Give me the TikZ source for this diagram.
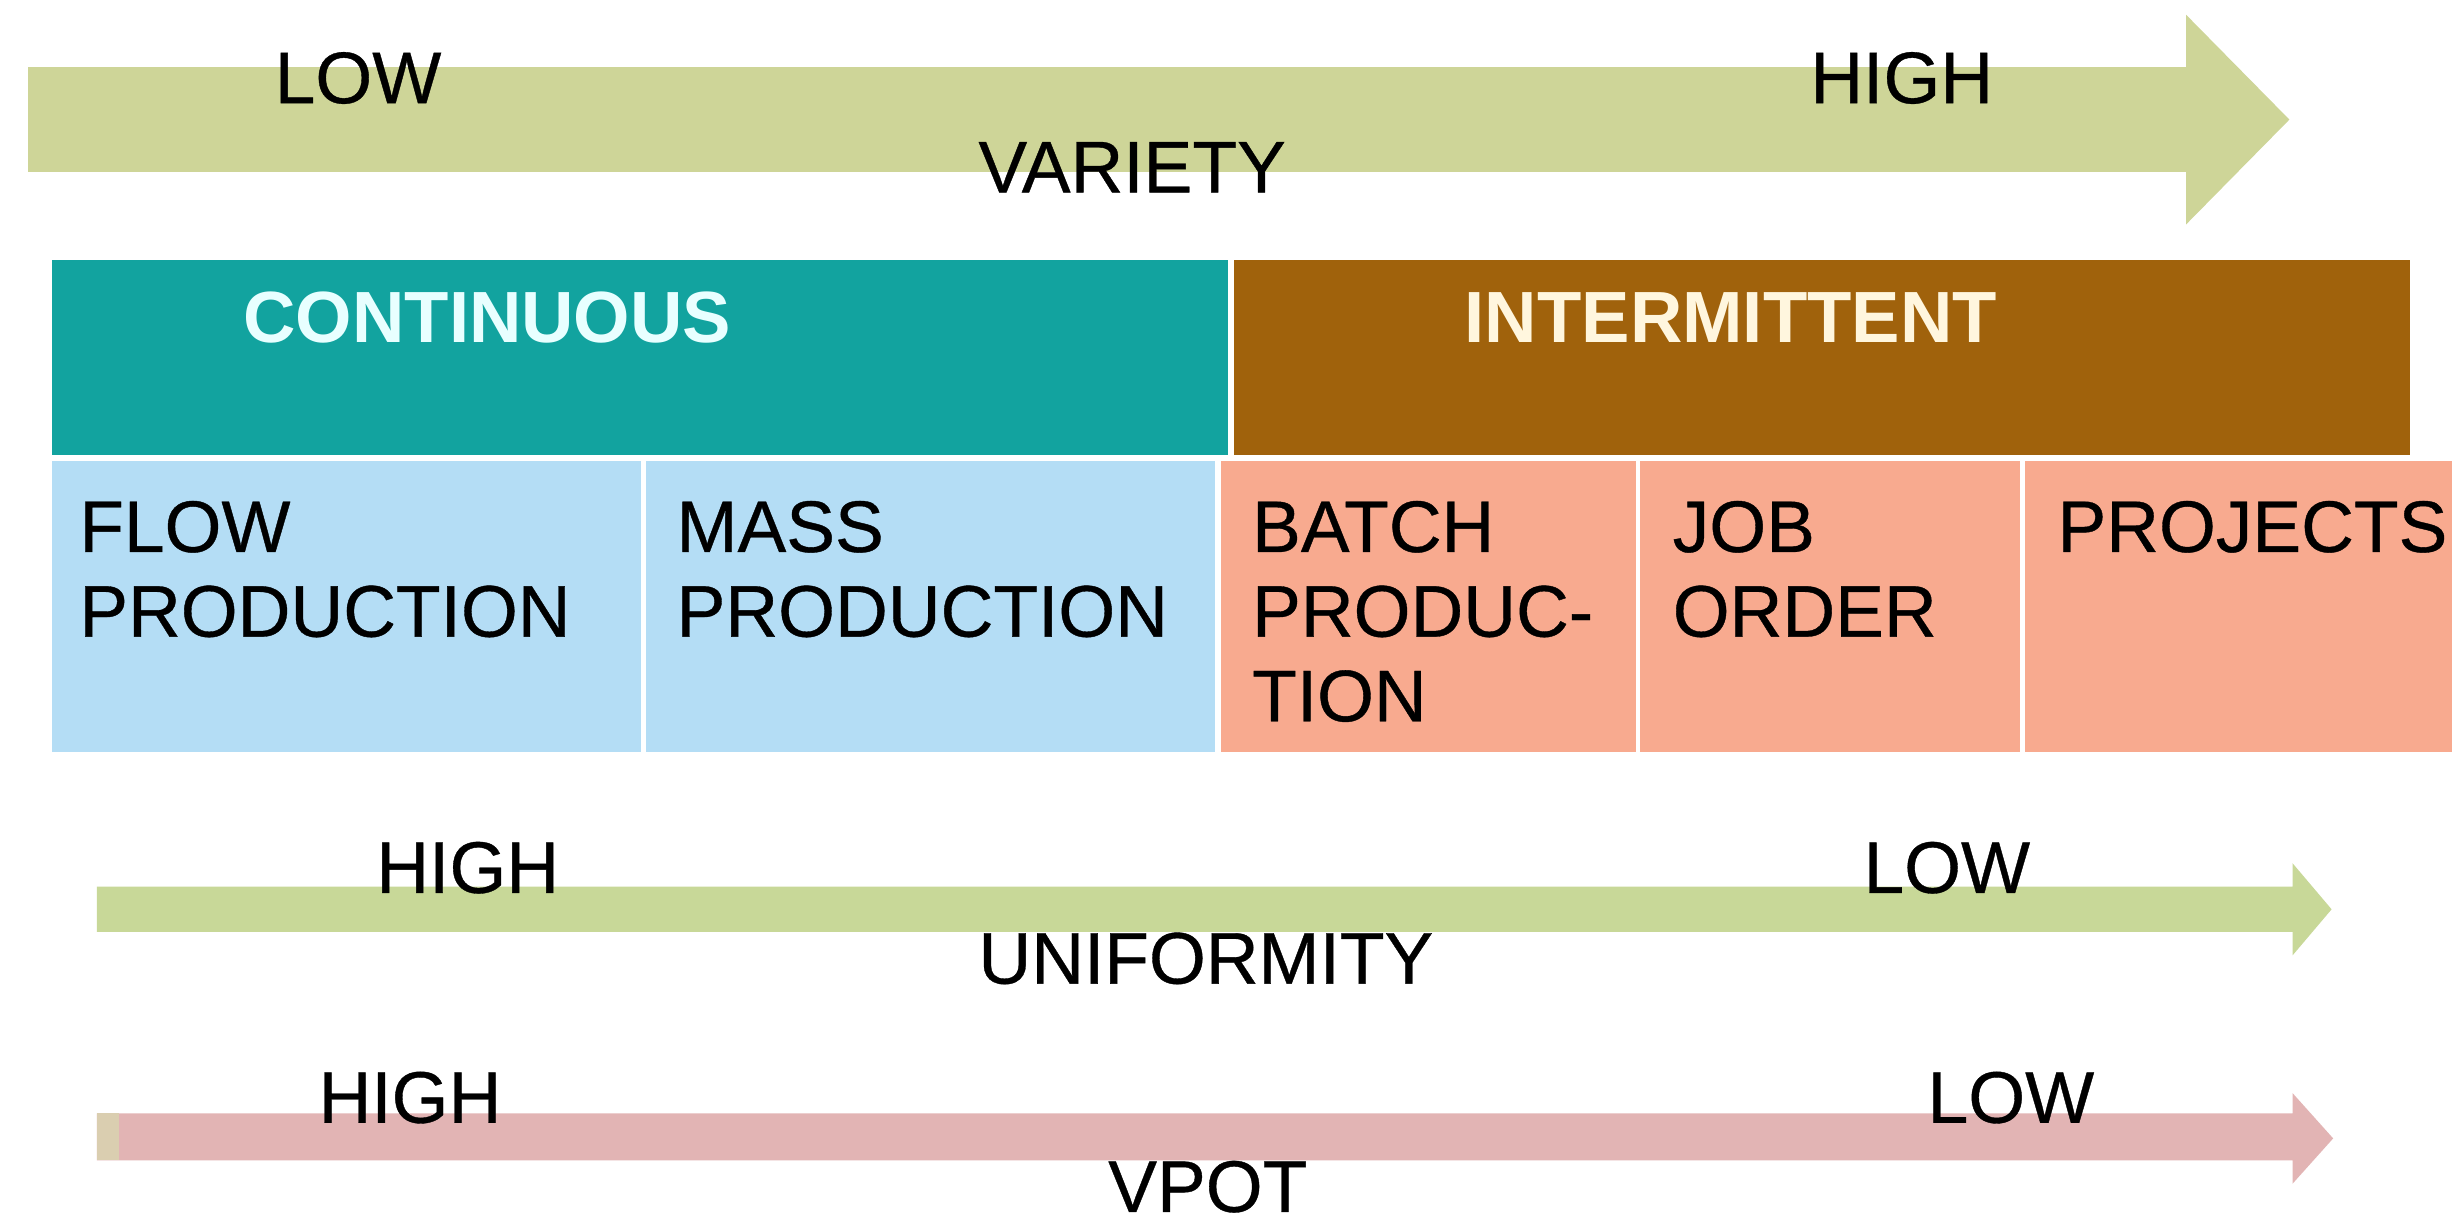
\documentclass[tikz,border=0pt]{standalone}
\usepackage{fontspec}
\setmainfont{Liberation Sans}
\newfontfamily\labelfont[FakeBold=0.5]{Liberation Sans}
\definecolor{arrowolive}{RGB}{206,213,152}
\definecolor{arrowgreen}{RGB}{200,216,152}
\definecolor{arrowpink}{RGB}{226,180,180}
\definecolor{arrowtan}{RGB}{218,206,176}
\definecolor{contteal}{RGB}{18,163,159}
\definecolor{intbrown}{RGB}{160,98,12}
\definecolor{cellblue}{RGB}{180,221,245}
\definecolor{cellsalmon}{RGB}{248,170,143}
\definecolor{lightcyan}{RGB}{232,255,255}
\definecolor{lightcream}{RGB}{255,246,222}
\begin{document}
\begin{tikzpicture}[x=0.1mm,y=-0.1mm,
  lbl/.style={anchor=base west, inner sep=0pt, text=black,
    font=\labelfont\fontsize{13.3}{15.4}\selectfont},
  bandlbl/.style={anchor=base west, inner sep=0pt,
    font=\fontsize{13.2}{15.4}\selectfont\bfseries}]
  % canvas
  \fill[white] (0,0) rectangle (1568,780);
  \useasboundingbox (0,0) rectangle (1568,780);

  % variety arrow
  \fill[arrowolive] (18,43) -- (1398,43) -- (1398,9.5) -- (1464,76.5)
    -- (1398,143.5) -- (1398,110) -- (18,110) -- cycle;
  \node[lbl] (varlow) at (175,66) {LOW};
  \node[lbl] (varhigh) at (1157,66) {HIGH};
  \node[lbl] (variety) at (625,123) {VARIETY};

  % process families
  \fill[contteal] (33,166) rectangle (785,291);
  \fill[intbrown] (789,166) rectangle (1541,291);
  \node[bandlbl, text=lightcyan] (cont) at (155,219) {CONTINUOUS};
  \node[bandlbl, text=lightcream] (inter) at (936,219) {INTERMITTENT};

  % process types
  \fill[cellblue] (33,295) rectangle (410,481);
  \fill[cellblue] (413,295) rectangle (777,481);
  \fill[cellsalmon] (781,295) rectangle (1046,481);
  \fill[cellsalmon] (1049,295) rectangle (1292,481);
  \fill[cellsalmon] (1295,295) rectangle (1568,481);
  \node[lbl] (flow) at (50,353) {\vtop{\hbox{FLOW}\hbox{PRODUCTION}}};
  \node[lbl] (mass) at (432,353) {\vtop{\hbox{MASS}\hbox{PRODUCTION}}};
  \node[lbl] (batch) at (800,353) {\vtop{\hbox{BATCH}\hbox{PRODUC-}\hbox{TION}}};
  \node[lbl] (job) at (1069,353) {\vtop{\hbox{JOB}\hbox{ORDER}}};
  \node[lbl] (proj) at (1315,353) {PROJECTS};

  % uniformity arrow
  \fill[arrowgreen] (62,567) -- (1466,567) -- (1466,552) -- (1491,581.5)
    -- (1466,611) -- (1466,596) -- (62,596) -- cycle;
  \node[lbl] (unihigh) at (240,571) {HIGH};
  \node[lbl] (unilow) at (1191,571) {LOW};
  \node[lbl] (uniformity) at (625,629) {UNIFORMITY};

  % VPOT arrow
  \fill[arrowpink] (62,712) -- (1466,712) -- (1466,699) -- (1492,728)
    -- (1466,757) -- (1466,742) -- (62,742) -- cycle;
  \fill[arrowtan] (62,712) rectangle (76,742);
  \node[lbl] (vphigh) at (203,718) {HIGH};
  \node[lbl] (vplow) at (1232,718) {LOW};
  \node[lbl] (vpot) at (708,775) {VPOT};
\end{tikzpicture}
\end{document}
